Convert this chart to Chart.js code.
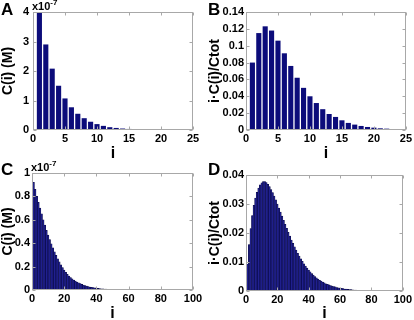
<!DOCTYPE html>
<html>
<head>
<meta charset="utf-8">
<script src="https://cdn.jsdelivr.net/npm/chart.js@4.4.1/dist/chart.umd.min.js"></script>
<style>
  body { margin: 0; background: #fff; }
  .panel { position: absolute; width: 207px; height: 160px; }
</style>
</head>
<body>
<div class="panel" style="left:0;top:0"><canvas id="chartA" width="207" height="160"></canvas></div>
<div class="panel" style="left:207px;top:0"><canvas id="chartB" width="207" height="160"></canvas></div>
<div class="panel" style="left:0;top:160px"><canvas id="chartC" width="207" height="160"></canvas></div>
<div class="panel" style="left:207px;top:160px"><canvas id="chartD" width="207" height="160"></canvas></div>
<script>
// Panel A: C(i) in units of 1e-7 M, i = 1..25
const cA = [4.0, 2.9, 2.08, 1.5, 1.07, 0.77, 0.55, 0.40, 0.28, 0.2, 0.14, 0.095, 0.07, 0.05, 0.036,
    0.026, 0.019, 0.014, 0.01, 0.007, 0.005, 0.0036, 0.0026, 0.0019, 0.0014];
// Panel B: i*C(i)/Ctot, i = 1..25
const bB = [0.080, 0.115, 0.123, 0.118, 0.106, 0.091, 0.076, 0.062, 0.050, 0.040, 0.032, 0.0247,
    0.019, 0.0155, 0.0115, 0.0084, 0.0064, 0.0048, 0.0036, 0.0028, 0.002, 0.0016, 0.0012, 0.0009, 0.0007];
// Panel C: C(i) in units of 1e-7 M, i = 1..100
const cC = [0.92, 0.86, 0.80, 0.75, 0.70, 0.65, 0.60, 0.555, 0.51, 0.47,
    0.43, 0.395, 0.36, 0.327, 0.296, 0.267, 0.24, 0.215, 0.192, 0.171,
    0.152, 0.135, 0.12, 0.107, 0.095, 0.085, 0.076, 0.068, 0.061, 0.055,
    0.049, 0.043, 0.038, 0.034, 0.030, 0.026, 0.023, 0.020, 0.018, 0.016,
    0.014, 0.012, 0.011, 0.0095, 0.0083, 0.0072, 0.0063, 0.0055, 0.0048, 0.0042,
    0.0036, 0.0031, 0.0027, 0.0023, 0.002, 0.0017, 0.0015, 0.0013, 0.0011, 0.001,
    0.0008, 0.0007, 0.0006, 0.0005, 0.0004, 0.0004, 0.0003, 0.0003, 0.0002, 0.0002,
    0.0002, 0.0001, 0.0001, 0.0001, 0.0001, 0.0001, 0.0001, 0, 0, 0,
    0, 0, 0, 0, 0, 0, 0, 0, 0, 0,
    0, 0, 0, 0, 0, 0, 0, 0, 0, 0];
// Panel D: i*C(i)/Ctot, i = 1..100
const dD = [0.0093, 0.016, 0.0215, 0.026, 0.0295, 0.032, 0.034, 0.0355, 0.0366, 0.0373,
    0.0377, 0.0377, 0.0374, 0.0368, 0.036, 0.035, 0.0339, 0.0327, 0.0314, 0.03,
    0.0286, 0.0272, 0.0258, 0.0244, 0.023, 0.0216, 0.0202, 0.0189, 0.0176, 0.0164,
    0.0152, 0.0141, 0.013, 0.012, 0.0111, 0.0102, 0.0094, 0.0086, 0.0079, 0.0072,
    0.0066, 0.006, 0.0055, 0.005, 0.0045, 0.0041, 0.0037, 0.0034, 0.0031, 0.0028,
    0.0025, 0.0023, 0.0021, 0.0019, 0.0017, 0.0015, 0.0014, 0.0012, 0.0011, 0.001,
    0.0009, 0.0008, 0.0007, 0.00065, 0.0006, 0.0005, 0.00045, 0.0004, 0.00035, 0.0003,
    0.00027, 0.00024, 0.00021, 0.00019, 0.00017, 0.00015, 0.00013, 0.00012, 0.0001, 0.00009,
    0.00008, 0.00007, 0.00006, 0.00005, 0.00005, 0.00004, 0.00004, 0.00003, 0.00003, 0.00003,
    0.00002, 0.00002, 0.00002, 0.00002, 0.00001, 0.00001, 0.00001, 0.00001, 0.00001, 0.00001];

// tick labels
const xTicksShort = [0, 5, 10, 15, 20, 25];
const xTicksLong = [0, 20, 40, 60, 80, 100];
const yTicksA = [0, 1, 2, 3, 4];
const yTicksB = [0, 0.02, 0.04, 0.06, 0.08, 0.1, 0.12, 0.14];
const yTicksC = [0, 0.2, 0.4, 0.6, 0.8, 1];
const yTicksD = [0, 0.01, 0.02, 0.03, 0.04];

Chart.defaults.font.family = "'Liberation Sans', Arial, sans-serif";
Chart.defaults.color = "#000";

const tickFont = { size: 11, weight: "bold" };
const titleFont = { size: 14, weight: "bold" };

// box, inward tick marks, panel letter and exponent label
const framePlugin = {
    id: "frame",
    afterDraw(chart, args, opts) {
        const ctx = chart.ctx;
        const a = chart.chartArea;
        const l = Math.round(a.left) + 0.5, r = Math.round(a.right) - 0.5;
        const t = Math.round(a.top) + 0.5, b = Math.round(a.bottom) - 0.5;
        ctx.save();
        ctx.strokeStyle = "#a8a8a8";
        ctx.lineWidth = 1;
        ctx.strokeRect(l, t, r - l, b - t);
        ctx.beginPath();
        chart.scales.x.ticks.forEach((tk) => {
            const px = Math.round(chart.scales.x.getPixelForValue(tk.value)) + 0.5;
            ctx.moveTo(px, b); ctx.lineTo(px, b - 3);
            ctx.moveTo(px, t); ctx.lineTo(px, t + 3);
        });
        chart.scales.y.ticks.forEach((tk) => {
            const py = Math.round(chart.scales.y.getPixelForValue(tk.value)) + 0.5;
            ctx.moveTo(l, py); ctx.lineTo(l + 3, py);
            ctx.moveTo(r, py); ctx.lineTo(r - 3, py);
        });
        ctx.stroke();

        ctx.fillStyle = "#000";
        ctx.textBaseline = "alphabetic";
        ctx.textAlign = "left";
        ctx.font = "bold 17px 'Liberation Sans', Arial, sans-serif";
        ctx.fillText(opts.letter, 1, 15);
        if (opts.exp) {
            ctx.font = "bold 11px 'Liberation Sans', Arial, sans-serif";
            ctx.fillText("x10", a.left - 1, a.top - 2);
            const w = ctx.measureText("x10").width;
            ctx.font = "bold 8px 'Liberation Sans', Arial, sans-serif";
            ctx.fillText(opts.exp, a.left - 1 + w, a.top - 7);
        }
        ctx.restore();
    },
};

function makePanel(id, values, xTicks, yTicks, yTitle, box, style, frame) {
    const data = values.map((v, k) => ({ x: k + 1, y: v }));
    return new Chart(document.getElementById(id), {
        type: "bar",
        data: {
            datasets: [
                {
                    data: data,
                    backgroundColor: style.fill,
                    borderColor: style.edge,
                    borderWidth: style.edgeWidth,
                    barPercentage: style.barPct,
                    categoryPercentage: 1,
                },
            ],
        },
        options: {
            responsive: false,
            animation: false,
            devicePixelRatio: 1,
            layout: {
                padding: { left: 0, right: box.right, top: box.top, bottom: 0 },
            },
            plugins: {
                legend: { display: false },
                tooltip: { enabled: false },
                frame: frame,
            },
            scales: {
                x: {
                    type: "linear",
                    offset: false,
                    min: xTicks[0],
                    max: xTicks[xTicks.length - 1],
                    afterBuildTicks: (s) => { s.ticks = xTicks.map((v) => ({ value: v })); },
                    afterFit: (s) => { s.height = box.xh; },
                    grid: { display: false, drawTicks: false },
                    border: { display: false },
                    ticks: { font: tickFont, padding: 2, maxRotation: 0, autoSkip: false, callback: (v) => String(v) },
                    title: { display: true, text: "i", font: { size: 16, weight: "bold", lineHeight: 0.8 }, padding: 0 },
                },
                y: {
                    min: yTicks[0],
                    max: yTicks[yTicks.length - 1],
                    afterBuildTicks: (s) => { s.ticks = yTicks.map((v) => ({ value: v })); },
                    afterFit: (s) => { s.width = box.yw; },
                    grid: { display: false, drawTicks: false },
                    border: { display: false },
                    ticks: { font: tickFont, padding: box.tp, autoSkip: false, callback: (v) => String(+v.toFixed(4)) },
                    title: { display: true, text: yTitle, font: titleFont, padding: { top: 0, bottom: 0 } },
                },
            },
        },
        plugins: [framePlugin],
    });
}

const wideBars = { fill: "#0c0c7a", edge: "#0c0c7a", edgeWidth: 0, barPct: 0.8 };
const thinBars = { fill: "#20208f", edge: "#06063a", edgeWidth: 0.5, barPct: 1 };

makePanel("chartA", cA, xTicksShort, yTicksA, "C(i) (M)",
    { right: 14, top: 12, xh: 30, yw: 33, tp: 4 }, wideBars, { letter: "A", exp: "-7" });
makePanel("chartB", bB, xTicksShort, yTicksB, "i\u00b7C(i)/Ctot",
    { right: 5, top: 12, xh: 30, yw: 39, tp: 2 }, wideBars, { letter: "B" });
makePanel("chartC", cC, xTicksLong, yTicksC, "C(i) (M)",
    { right: 14, top: 13, xh: 30, yw: 32, tp: 2 }, thinBars, { letter: "C", exp: "-7" });
makePanel("chartD", dD, xTicksLong, yTicksD, "i\u00b7C(i)/Ctot",
    { right: 5, top: 15, xh: 29, yw: 39, tp: 2 }, thinBars, { letter: "D" });
</script>
</body>
</html>
